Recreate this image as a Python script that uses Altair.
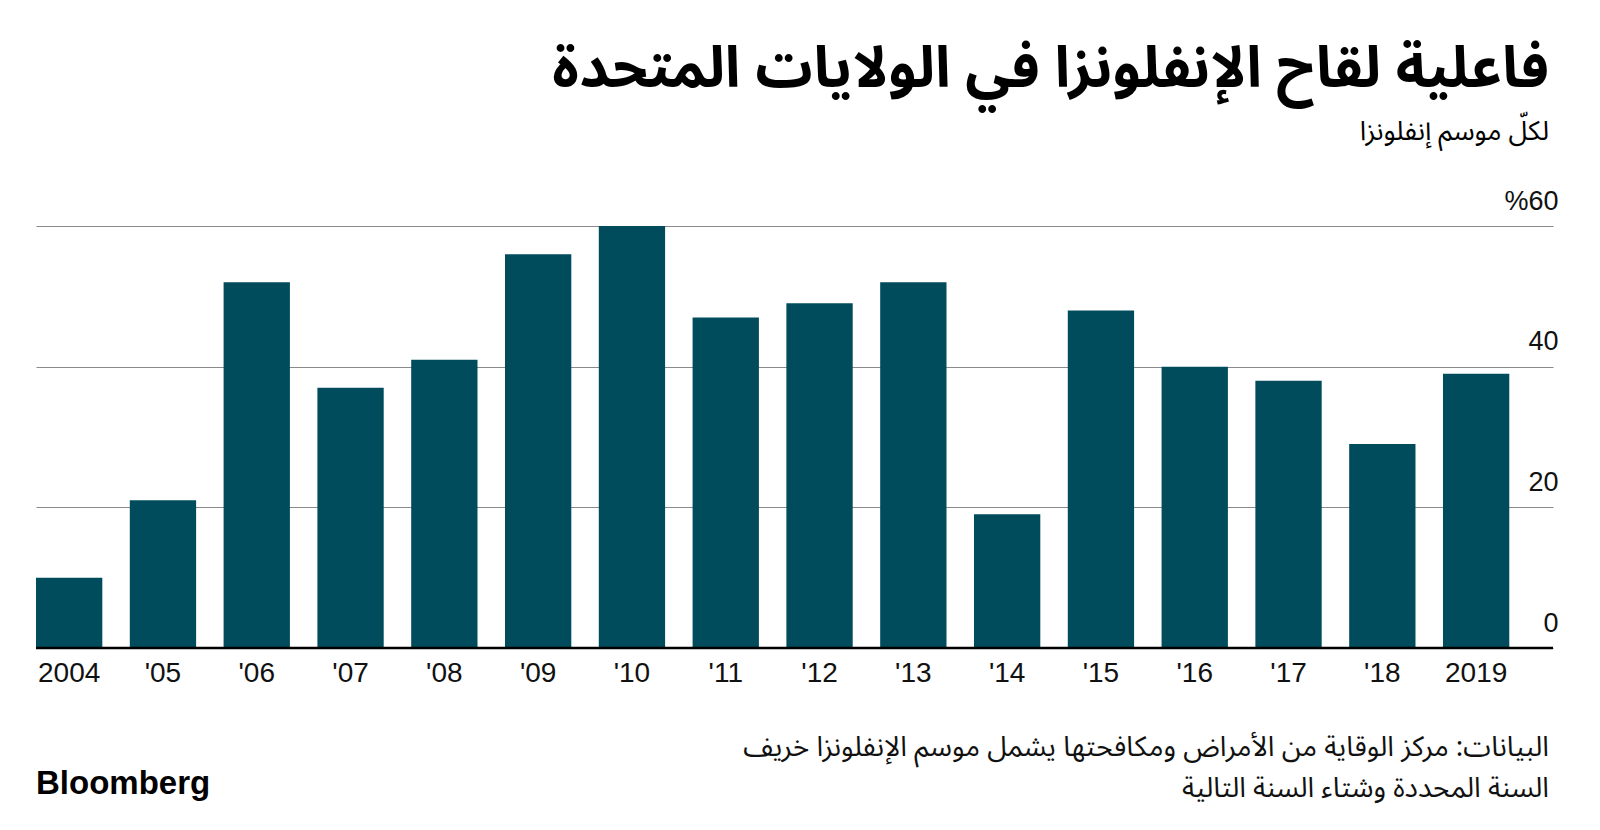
import altair as alt
import pandas as pd

labels = ["2004", "'05", "'06", "'07", "'08", "'09", "'10", "'11", "'12", "'13",
          "'14", "'15", "'16", "'17", "'18", "2019"]
values = [10, 21, 52, 37, 41, 56, 60, 47, 49, 52, 19, 48, 40, 38, 29, 39]
y_ticks = [0, 20, 40, 60]

TITLE = "فاعلية لقاح الإنفلونزا في الولايات المتحدة"
SUBTITLE = "لكلّ موسم إنفلونزا"
NOTE1 = "البيانات: مركز الوقاية من الأمراض ومكافحتها يشمل موسم الإنفلونزا خريف"
NOTE2 = "السنة المحددة وشتاء السنة التالية"
BRAND = "Bloomberg"

BAR = "#014c5c"
AR_FONT = "Noto Sans Arabic, DejaVu Sans"
NUM_FONT = "Liberation Sans"

df = pd.DataFrame({"label": labels, "value": values})

bars = alt.Chart(df).mark_bar(color=BAR).encode(
    x=alt.X("label:N", sort=labels, title=None,
            scale=alt.Scale(paddingInner=0.293, paddingOuter=0.233, align=0),
            axis=alt.Axis(domain=False, ticks=False, grid=False, labelAngle=0, labelPadding=11,
                          labelFont=NUM_FONT, labelFontSize=28, labelColor="#111")),
    y=alt.Y("value:Q", title=None,
            scale=alt.Scale(domain=[0, 60], nice=False),
            axis=alt.Axis(orient="right", values=y_ticks, grid=True, gridColor="#8a8a8a",
                          gridWidth=1.2, domain=False, ticks=False,
                          labelExpr="datum.value == 60 ? '%60' : datum.label",
                          labelAlign="right", labelBaseline="middle", labelPadding=5,
                          labelOffset=-25, labelFont=NUM_FONT, labelFontSize=27,
                          labelColor="#111")),
)

zero = alt.Chart(pd.DataFrame({"v": [0]})).mark_rule(color="#000", strokeWidth=2.5).encode(
    y=alt.Y("v:Q")
)

def text_layer(txt, x, y, size, weight="normal", align="right", font=AR_FONT, color="#000"):
    return alt.Chart(pd.DataFrame({"t": [txt]})).mark_text(
        align=align, baseline="middle", fontSize=size, fontWeight=weight, font=font, color=color
    ).encode(text="t:N", x=alt.value(x), y=alt.value(y))

title = text_layer(TITLE, 1513, -156, 57, weight="bold")
subtitle = text_layer(SUBTITLE, 1513, -94, 27)
note1 = text_layer(NOTE1, 1513, 522, 28, color="#111")
note2 = text_layer(NOTE2, 1513, 563, 28, color="#111")
brand = text_layer(BRAND, 0, 558, 33, weight="bold", align="left", font=NUM_FONT)

chart = alt.layer(bars, zero, title, subtitle, note1, note2, brand).properties(
    width=1517, height=422,
    padding={"left": 28, "top": 218, "right": 39, "bottom": 174},
    autosize=alt.AutoSizeParams(type="none"),
    background="white",
).configure_view(stroke=None, strokeWidth=0)

chart.save("out.html", embed_options={"renderer": "svg", "actions": False})
